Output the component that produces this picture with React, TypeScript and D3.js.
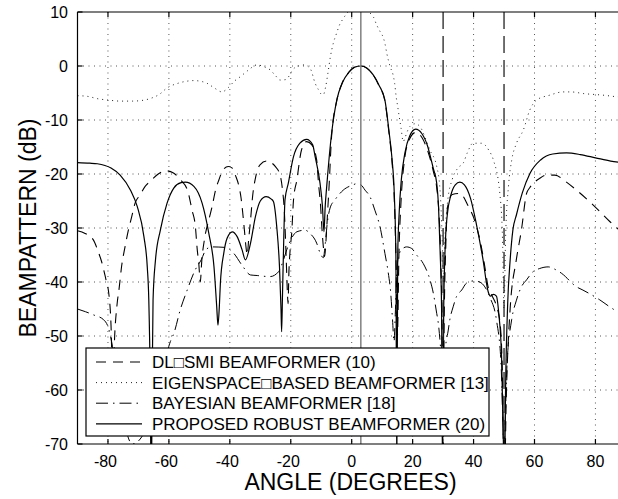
import React from 'react';
import * as d3 from 'd3';

type Pt = [number, number];

const xTicks = [-80, -60, -40, -20, 0, 20, 40, 60, 80];
const yTicks = [10, 0, -10, -20, -30, -40, -50, -60, -70];
const signalAngles = [3];
const interferenceAngles = [30, 50];
const legendLabels = [
  'DL\u25A1SMI BEAMFORMER (10)',
  'EIGENSPACE\u25A1BASED BEAMFORMER [13]',
  'BAYESIAN BEAMFORMER [18]',
  'PROPOSED ROBUST BEAMFORMER (20)',
];

const dlSmi: Pt[] = [
  [-90, -30.5], [-87.5, -31], [-84.8, -32.2], [-83.2, -34.4], [-82.1, -36.2], [-81, -38.7], [-80.4, -40.2],
  [-79.8, -41.8], [-79, -48], [-78.4, -60], [-77.8, -50], [-77.1, -44.6], [-76.3, -41], [-75.5, -37],
  [-74.4, -33.5], [-73.3, -30.4], [-72.2, -27.9], [-71.1, -25.4], [-69.5, -23.9], [-67.8, -22.3],
  [-66.2, -21.4], [-63.5, -20], [-61, -19.4], [-58.5, -19.8], [-56.2, -21.1], [-53.9, -23], [-52.4, -26.7],
  [-51.3, -29.8], [-50.7, -34], [-50.2, -36.5], [-49.7, -40], [-49.2, -36], [-48.3, -32], [-46.9, -28.5],
  [-45.8, -26], [-44.7, -23], [-43.6, -21.1], [-42.3, -19.3], [-40.5, -18.6], [-39.2, -18.9], [-38.2, -20.2],
  [-37, -22.3], [-36.3, -24.5], [-35.8, -27], [-35.2, -30.5], [-34.7, -33.5], [-34.3, -35], [-33.8, -32],
  [-33.2, -28.5], [-32.5, -24], [-31.5, -20.5], [-30.1, -18.3], [-27.9, -17.6], [-25.1, -18.6],
  [-23.5, -20.2], [-22.7, -23], [-22.1, -27], [-21.6, -34], [-21.1, -42], [-20.9, -44], [-20.6, -38],
  [-20.2, -34], [-19.7, -31], [-19.1, -24.8], [-18, -21.1], [-16.5, -15.6], [-14.8, -14], [-13.1, -14.6],
  [-11.5, -17.4], [-10.9, -21.7], [-10.2, -26], [-9.8, -29.8], [-9.3, -33.5], [-8.9, -35.3], [-8.4, -32],
  [-8, -28], [-7.4, -22], [-6.6, -13], [-4.9, -6.4], [-3, -3], [-1, -1.2], [1, -0.2], [3, 0], [5, -0.4],
  [7, -1.6], [9, -3.7], [10.9, -6.5], [12.2, -12.2], [13.2, -17.5], [14, -25], [14.5, -35], [15, -50],
  [15.5, -35], [16.2, -25], [17.3, -17.5], [19, -13.5], [21, -12.3], [23, -13.2], [25, -15.8], [26.8, -19.5],
  [27.9, -22.5], [28.6, -27], [29.2, -35], [29.7, -50], [30, -75], [30.3, -50], [30.9, -33], [31.5, -26],
  [33, -23.8], [35.5, -23.6], [38.3, -26], [39.9, -27.9], [41, -29.8], [42.1, -32.2], [43.7, -37.2],
  [44.8, -41], [46, -42.5], [47.6, -44.6], [48.7, -47.6], [49.5, -58], [50, -80], [50.8, -60], [52, -45],
  [54, -36], [55.7, -30.4], [57.4, -23.6], [58.5, -22.5], [61.7, -20.8], [64, -20.2], [66.7, -20.2],
  [70, -21.3], [73.8, -23], [79.2, -25.7], [84.7, -28.8], [90, -31.5],
];

const eigenspace: Pt[] = [
  [-90, -5.5], [-87, -5.6], [-83, -6.1], [-80, -6.3], [-76, -6.5], [-72, -6.5], [-68, -6.3], [-66, -6],
  [-63, -5.2], [-60.7, -4.1], [-57, -3.2], [-54, -2.8], [-51.9, -2.7], [-49, -2.9], [-47.5, -3.2],
  [-45, -4.1], [-42.6, -4.8], [-40.5, -4], [-38.5, -2.8], [-36.6, -2], [-34, -0.8], [-31.1, 0.2],
  [-28.5, -0.2], [-26.8, -0.7], [-25, -1.8], [-23.5, -2.6], [-21.5, -2.5], [-20.5, -1.8], [-19.5, -0.8],
  [-17.5, 0], [-15.5, 0.2], [-13.5, -0.6], [-12, -3.2], [-11, -4.3], [-10, -5.2], [-9.3, -5.3], [-8.6, -4],
  [-7.8, -1.3], [-7, 1.7], [-6, 4.3], [-5, 6], [-4, 7.6], [-3, 8.6], [-1.5, 9.8], [0, 10.8], [2.5, 11.5],
  [5, 10.5], [6.5, 9.5], [7.1, 9.1], [8.2, 7.6], [9.3, 6.4], [10.4, 5.2], [10.9, 4.2], [11.5, 2.4],
  [12.6, -0.1], [13.6, -1.7], [14.1, -3.2], [14.6, -5.7], [15.1, -7.5], [15.6, -9.4], [16.2, -11.5],
  [16.9, -14], [17.5, -13.3], [18, -12.5], [19.1, -11.2], [20.8, -10.7], [22.4, -11.2], [24, -13.1],
  [25.7, -15.6], [27.9, -18.6], [29, -23], [29.7, -32], [30.1, -40], [30.6, -32], [31.5, -25], [33, -21],
  [35, -18.8], [36.6, -18], [38, -16], [39.8, -14.3], [42.7, -14.3], [45, -15.6], [46.5, -17.4],
  [48.6, -23.5], [49.5, -32], [50, -45], [50.5, -32], [51.5, -22], [52.5, -17.5], [54.1, -14.3],
  [56.3, -11.9], [58.5, -8.1], [60.7, -6.3], [65, -5.4], [69.4, -4.8], [72, -4.8], [76, -5.1],
  [82.5, -5.4], [86.9, -5.7], [90, -5.9],
];

const bayesian: Pt[] = [
  [-90, -45], [-87.4, -45.5], [-84.7, -46.1], [-81.4, -47], [-79.8, -48.6], [-78.5, -52], [-77, -58],
  [-72, -70], [-66, -65], [-62, -56], [-59.5, -51], [-58.3, -49.4], [-56.3, -45.2], [-54, -41.5],
  [-51.4, -37.8], [-49.4, -35.9], [-47.8, -34], [-46, -33.5], [-41.4, -33.6], [-38.7, -34.7], [-36, -36.9],
  [-33.2, -38.7], [-31, -38.8], [-29.5, -38.9], [-26.8, -39], [-24, -38.1], [-22.4, -35.9], [-21.3, -34],
  [-20, -32.2], [-18, -30.7], [-15.3, -30.4], [-13.7, -31], [-11.5, -32.8], [-10.4, -34.6], [-9.3, -35.5],
  [-8.7, -33], [-8, -29], [-7.1, -26.3], [-5.5, -24.8], [-2.8, -23], [0.5, -22], [1.5, -21.8], [3, -22],
  [4.4, -23], [6, -24.2], [7.6, -26.7], [9.3, -29.8], [10.9, -34.7], [12, -38.3], [12.8, -42], [13.4, -47],
  [13.9, -51], [14.3, -46], [14.8, -38], [15.5, -35], [16.4, -34], [18, -33.5], [19.7, -33.8], [21.3, -35],
  [23.5, -36.6], [25.7, -39.6], [26.8, -42.1], [27.9, -45.8], [28.4, -47.5], [29.3, -53], [30, -58],
  [30.8, -52], [31.7, -48.9], [32.2, -47], [33.3, -44.6], [34.4, -42.7], [36.1, -41.5], [37.7, -40.2],
  [40, -39.8], [42, -40], [43.7, -40.9], [45.5, -43], [47.5, -47], [49, -55], [50, -70], [51, -55],
  [52.5, -47], [54, -43.5], [55.7, -40.9], [57.4, -39.6], [59.5, -38.1], [61.7, -37.5], [64.5, -37.2],
  [67.2, -37.8], [68.9, -38.4], [73.8, -40.9], [75.9, -41.5], [81.4, -43.3], [84.7, -44.6], [87.3, -45.5],
  [90, -46],
];

const proposed: Pt[] = [
  [-90, -17.9], [-86, -18], [-83.5, -18.1], [-79, -18.9], [-76, -20.2], [-72.6, -23], [-70.4, -26],
  [-68.2, -31.6], [-67.1, -37.2], [-66.6, -43.3], [-66.1, -60], [-65.8, -80], [-65.5, -60], [-65.2, -43.3],
  [-64.4, -35.9], [-62.8, -30.4], [-60.6, -25.4], [-58.4, -22.6], [-56, -21.6], [-54.6, -21.5],
  [-51.8, -22.3], [-49.1, -25.4], [-46.9, -31], [-45.2, -37.2], [-44.3, -44.6], [-43.9, -48], [-43.4, -44],
  [-43.1, -40.2], [-42, -34.7], [-40.9, -31.9], [-39.2, -30.7], [-37.6, -31.6], [-36, -34], [-34.9, -35.9],
  [-33.2, -32.8], [-31.6, -27.9], [-30, -25], [-28.1, -24.2], [-26.5, -24.6], [-25.7, -25.1],
  [-24.6, -29.8], [-23.7, -37.2], [-23.2, -45], [-23, -49.2], [-22.7, -42], [-22.3, -32], [-21.9, -24.8],
  [-20.8, -21.7], [-19.1, -16.8], [-17, -14.3], [-14.8, -13.6], [-12.8, -14.6], [-12, -16.8],
  [-10.4, -21.7], [-9.6, -26], [-9.1, -30.7], [-8.7, -26], [-8.2, -22.3], [-6.6, -12.5], [-4.9, -6.3],
  [-3, -3], [-1, -1.2], [1, -0.2], [3, 0], [5, -0.4], [7, -1.6], [9, -3.6], [10.9, -6.3], [12.2, -11.9],
  [13.2, -17], [14, -24], [14.5, -35], [14.8, -75], [15.1, -35], [15.6, -27], [16.3, -21], [17.5, -16],
  [19, -13], [21, -11.7], [23, -12.5], [25, -15], [25.7, -16.5], [26.8, -19], [27.9, -21.7], [28.5, -26],
  [29, -34], [29.5, -45], [29.8, -75], [30.2, -45], [30.8, -32], [31.5, -27], [32.5, -24], [34, -22],
  [35.5, -21.5], [37, -22], [39, -24.5], [41, -29.5], [43, -35.5], [44.8, -41.8], [45.5, -42.6],
  [46.5, -42.3], [47.5, -42.6], [48.3, -46], [49.2, -54], [49.8, -70], [50.1, -80], [50.5, -60],
  [51.2, -44], [52, -36], [52.9, -30.4], [54.1, -27.5], [56, -23.5], [58.5, -19.9], [62, -17.4],
  [66, -16.3], [70.5, -16.1], [75, -16.4], [80, -17], [85, -17.6], [90, -18],
];

const FONT = '"Liberation Sans", Arial, Helvetica, sans-serif';
const DASH = '10,7';
const DOT = '1,4';
const DASHDOT = '12,5,1.5,5';

export default function App() {
  const W = 618, H = 499;
  const left = 77.5, right = 625.9, top = 12, bottom = 444;
  const x = d3.scaleLinear().domain([-90, 90]).range([left, right]);
  const y = d3.scaleLinear().domain([-70, 10]).range([bottom, top]);
  const line = d3.line<Pt>().x(d => x(d[0])).y(d => y(d[1])).curve(d3.curveMonotoneX);

  const series = [
    { data: dlSmi, dash: DASH, color: '#000', width: 1.1 },
    { data: eigenspace, dash: DOT, color: '#222', width: 1 },
    { data: bayesian, dash: DASHDOT, color: '#000', width: 1 },
    { data: proposed, dash: undefined, color: '#000', width: 1.2 },
  ];

  const lg = { x0: 86, y0: 348, x1: 489, y1: 436, baseline0: 368, step: 20.6 };

  return (
    <svg width={W} height={H} style={{ position: 'absolute', left: 0, top: 0, display: 'block', background: '#fff' }}
      fontFamily={FONT}>
      <defs>
        <clipPath id="plotClip">
          <rect x={left} y={top} width={right - left} height={bottom - top} />
        </clipPath>
      </defs>
      <rect x={0} y={0} width={W} height={H} fill="#fff" />
      {/* grid */}
      <g stroke="#555" strokeWidth={1} strokeDasharray="1,4.5">
        {xTicks.map(t => (
          <line key={'gx' + t} x1={x(t)} x2={x(t)} y1={top} y2={bottom} />
        ))}
        {yTicks.filter(t => t !== 10 && t !== -70).map(t => (
          <line key={'gy' + t} x1={left} x2={right} y1={y(t)} y2={y(t)} />
        ))}
      </g>
      {/* curves */}
      <g clipPath="url(#plotClip)" fill="none">
        {series.map((s, i) => (
          <path key={i} d={line(s.data) || ''} stroke={s.color} strokeWidth={s.width}
            strokeDasharray={s.dash} strokeLinejoin="round" />
        ))}
        {signalAngles.map(a => (
          <line key={'s' + a} x1={x(a)} x2={x(a)} y1={top} y2={bottom} stroke="#777" strokeWidth={1.4} />
        ))}
        {interferenceAngles.map(a => (
          <line key={'i' + a} x1={x(a)} x2={x(a)} y1={top} y2={bottom} stroke="#222" strokeWidth={1.3}
            strokeDasharray="17,7" />
        ))}
      </g>
      {/* axes frame */}
      <g stroke="#000" strokeWidth={1.2} fill="none">
        <line x1={left} x2={W} y1={top} y2={top} />
        <line x1={left} x2={W} y1={bottom} y2={bottom} />
        <line x1={left} x2={left} y1={top} y2={bottom} />
        {xTicks.map(t => (
          <g key={'tx' + t}>
            <line x1={x(t)} x2={x(t)} y1={bottom} y2={bottom - 5} />
            <line x1={x(t)} x2={x(t)} y1={top} y2={top + 5} />
          </g>
        ))}
        {yTicks.map(t => (
          <line key={'ty' + t} x1={left} x2={left + 5} y1={y(t)} y2={y(t)} />
        ))}
      </g>
      {/* tick labels */}
      <g fontSize={16} fill="#000">
        {xTicks.map(t => (
          <text key={'lx' + t} x={x(t) - (t < 0 ? 2.5 : 0)} y={467} textAnchor="middle">{t}</text>
        ))}
        {yTicks.map(t => (
          <text key={'ly' + t} x={68} y={y(t) + 5.8} textAnchor="end">{t}</text>
        ))}
      </g>
      {/* axis titles */}
      <text x={350.5} y={490} textAnchor="middle" fontSize={23}>ANGLE (DEGREES)</text>
      <text transform={`translate(36, ${(top + bottom) / 2}) rotate(-90)`} textAnchor="middle" fontSize={23}>
        BEAMPATTERN (dB)
      </text>
      {/* legend */}
      <rect x={lg.x0} y={lg.y0} width={lg.x1 - lg.x0} height={lg.y1 - lg.y0} fill="#fff" stroke="#000" strokeWidth={1.2} />
      {legendLabels.map((label, i) => {
        const s = series[i];
        const by = lg.baseline0 + i * lg.step;
        return (
          <g key={'lg' + i}>
            <line x1={96} x2={142} y1={by - 6} y2={by - 6} stroke={s.color} strokeWidth={s.width}
              strokeDasharray={s.dash} />
            <text x={152} y={by} fontSize={17}>{label}</text>
          </g>
        );
      })}
    </svg>
  );
}
